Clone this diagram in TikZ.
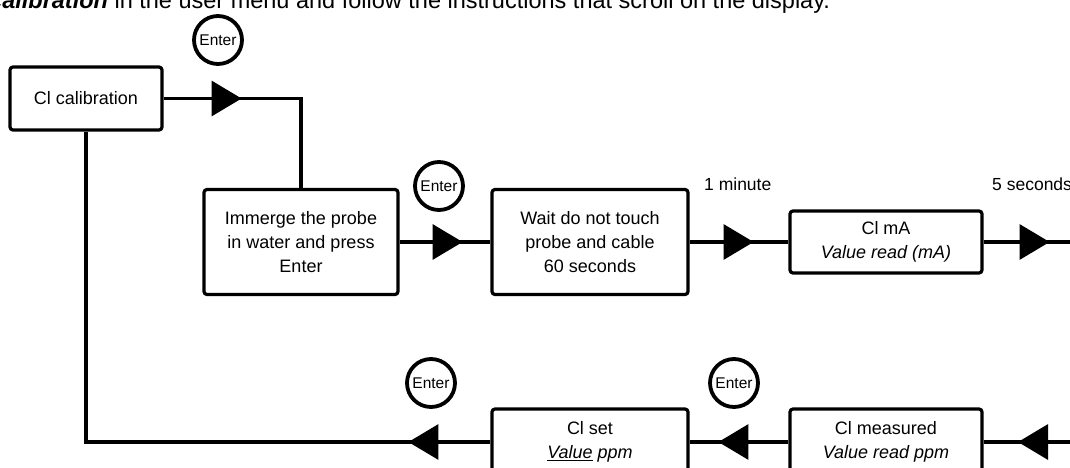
\documentclass[tikz,border=0pt]{standalone}
\usepackage{fontspec}
\setmainfont{Liberation Sans}
\usetikzlibrary{arrows.meta,decorations.markings}

\begin{document}
\begin{tikzpicture}[
    x=1pt, y=-1pt,
    stepbox/.style={rectangle, draw=black, line width=3.2pt, rounded corners=3pt, align=center, inner sep=0pt, font=\fontsize{18}{24}\selectfont},
    enterkey/.style={circle, draw=black, fill=white, line width=3.8pt, minimum size=48pt, inner sep=0pt, font=\fontsize{15.5}{16}\selectfont},
    timelabel/.style={anchor=base west, inner sep=0pt, font=\fontsize{17.5}{20}\selectfont},
    flow/.style={line width=3.2pt},
    tipat/.style={postaction={decorate}, decoration={markings, mark=at position #1 with {\arrow{Triangle[length=30pt, width=35pt]}}}}
]
    \useasboundingbox (0,0) rectangle (1070,468);
    \clip (0,0) rectangle (1070,468);

    % Cut-off line of the text above
    \node[anchor=base west, inner sep=0pt, font=\fontsize{23.5}{28}\selectfont] (intro) at (-11, 9) {\textbf{\textit{calibration}} in the user menu and follow the instructions that scroll on the display.};

    % Top Row: Calibration steps
    \node[stepbox, minimum width=152pt, minimum height=63pt] (cal) at (86, 98.5) {Cl calibration};
    \node[stepbox, minimum width=194pt, minimum height=105pt] (immerge) at (301, 242) {Immerge the probe\\in water and press\\Enter};
    \node[stepbox, minimum width=196pt, minimum height=105pt] (wait) at (590, 242) {Wait do not touch\\probe and cable\\60 seconds};
    \node[stepbox, minimum width=192pt, minimum height=62pt] (clma) at (886, 242) {Cl mA\\\textit{Value read (mA)}};

    % Bottom Row: Reading and setting the value
    \node[stepbox, minimum width=192pt, minimum height=66pt] (clmeas) at (886, 442) {Cl measured\\\textit{Value read ppm}};
    \node[stepbox, minimum width=196pt, minimum height=66pt] (clset) at (590, 442) {Cl set\\\underline{\textit{Value}} \textit{ppm}};

    % Enter keys and timings
    \node[enterkey] (key1) at (218, 40) {Enter};
    \node[enterkey] (key2) at (439, 186) {Enter};
    \node[enterkey] (key3) at (734, 383) {Enter};
    \node[enterkey] (key4) at (431, 383) {Enter};
    \node[timelabel] (tmin) at (704, 190) {1 minute};
    \node[timelabel] (tsec) at (992, 190) {5 seconds};

    \coordinate (outR) at (1075, 242);
    \coordinate (inR) at (1075, 442);

    % Connectors
    \draw[flow, tipat=78pt] (cal.east) -| (immerge.north);
    \draw[flow, tipat=63pt] (immerge.east) -- (wait.west);
    \draw[flow, tipat=64pt] (wait.east) -- (clma.west);
    \draw[flow, tipat=66pt] (clma.east) -- (outR);
    \draw[flow, tipat=57pt] (inR) -- (clmeas.east);
    \draw[flow, tipat=70pt] (clmeas.west) -- (clset.east);
    \draw[flow, tipat=82pt] (clset.west) -| (cal.south);

\end{tikzpicture}
\end{document}
